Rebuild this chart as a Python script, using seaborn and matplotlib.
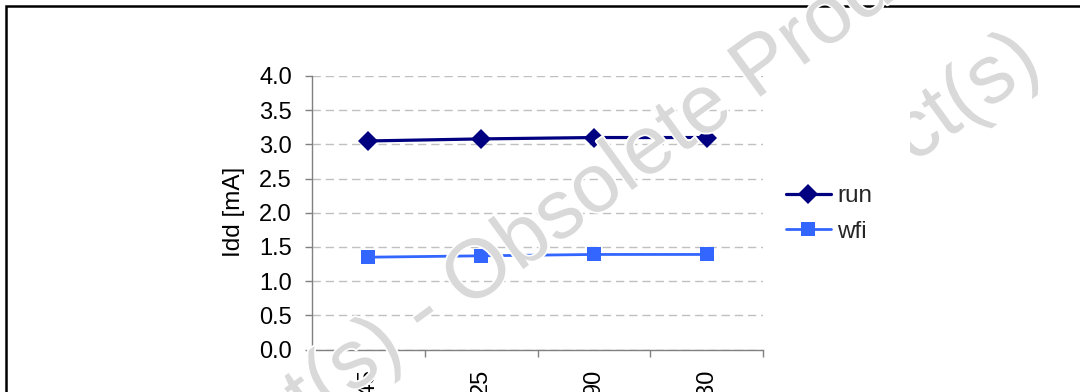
import matplotlib
matplotlib.use("Agg")
import matplotlib.pyplot as plt
import matplotlib.patheffects as pe
import seaborn as sns
from matplotlib.patches import Rectangle
from matplotlib.lines import Line2D
from matplotlib.transforms import Bbox, TransformedBbox

# Supply current vs. ambient temperature
temperatures = ["-45", "25", "90", "130"]
idd_run = [3.05, 3.08, 3.10, 3.10]
idd_wfi = [1.35, 1.37, 1.39, 1.39]
series_names = ["run", "wfi"]
y_ticks = [0.0, 0.5, 1.0, 1.5, 2.0, 2.5, 3.0, 3.5, 4.0]
y_label = "Idd [mA]"
watermark = "Obsolete Product(s) - Obsolete Product(s)"

RUN_COLOR = "#000080"
WFI_COLOR = "#3366ff"
AXIS_GRAY = "#808080"
WM_GRAY = "#d9d9d9"
TICK_FS = 17
LABEL_FS = 17.5

sns.set_theme(style="white")
plt.rcParams["font.family"] = ["Liberation Sans", "DejaVu Sans"]

W, H = 1080, 392
fig = plt.figure(figsize=(W / 100, H / 100), dpi=100)
fig.patch.set_facecolor("white")

# page frame around the figure
frame = Rectangle((5.5 / W, -0.5), 2.0, (1 - 6 / H) + 0.5, transform=fig.transFigure,
                  fill=False, edgecolor="black", linewidth=1.8, zorder=1)
fig.add_artist(frame)

ax = fig.add_axes([312 / W, 1 - 349.5 / H, (763 - 312) / W, (349.5 - 76) / H])
ax.set_facecolor("none")

positions = list(range(len(temperatures)))
sns.lineplot(x=positions, y=idd_run, ax=ax, color=RUN_COLOR, linewidth=2.3,
             marker="D", markersize=10, markeredgewidth=0, label=series_names[0],
             legend=False, zorder=3)
sns.lineplot(x=positions, y=idd_wfi, ax=ax, color=WFI_COLOR, linewidth=2.0,
             marker="s", markersize=9.5, markeredgewidth=0, label=series_names[1],
             legend=False, zorder=3)

ax.set_xlim(-0.5, len(temperatures) - 0.5)
ax.set_ylim(0, 4)
ax.set_yticks(y_ticks)
ax.set_yticklabels([f"{v:.1f}" for v in y_ticks])
ax.set_xlabel("")
ax.set_ylabel("")

# category boundaries carry the tick marks, centres carry the labels
ax.set_xticks([p - 0.5 for p in positions] + [positions[-1] + 0.5])
ax.set_xticklabels([])
ax.set_xticks(positions, minor=True)
ax.set_xticklabels(temperatures, minor=True, rotation=90, fontsize=TICK_FS)
ax.tick_params(axis="x", which="major", direction="out", length=5, width=1,
               color=AXIS_GRAY, bottom=True)
ax.tick_params(axis="x", which="minor", length=0, pad=14, labelcolor="black")
ax.tick_params(axis="y", direction="out", length=5, width=1, color=AXIS_GRAY,
               left=True, pad=9.5, labelsize=TICK_FS, labelcolor="black")

for side in ["top", "right"]:
    ax.spines[side].set_visible(False)
for side in ["left", "bottom"]:
    ax.spines[side].set_color(AXIS_GRAY)
    ax.spines[side].set_linewidth(1.0)

ax.yaxis.grid(True, color="#c0c0c0", linewidth=1.0, linestyle=(0, (6, 3.5)))
ax.xaxis.grid(False)
ax.set_axisbelow(True)

fig.text(234 / W, 1 - 212 / H, y_label, rotation=90, ha="center", va="center",
         fontsize=LABEL_FS, color="black")

handles = [
    Line2D([], [], color=RUN_COLOR, linewidth=2.3, marker="D", markersize=10,
           markeredgewidth=0),
    Line2D([], [], color=WFI_COLOR, linewidth=2.0, marker="s", markersize=9.5,
           markeredgewidth=0),
]
fig.legend(handles, series_names, loc="center left",
           bbox_to_anchor=(786 / W, 1 - 214 / H), bbox_transform=fig.transFigure,
           frameon=False, fontsize=LABEL_FS, handlelength=1.85, handletextpad=0.25,
           labelspacing=0.55, borderpad=0, borderaxespad=0)

# diagonal watermark across the page
halo = [pe.withStroke(linewidth=2.5, foreground="white")]
fig.text(424 / W, 1 - 314 / H, watermark, rotation=36, rotation_mode="anchor",
         ha="center", va="center", fontsize=60, color=WM_GRAY, zorder=10,
         path_effects=halo)
wm2 = fig.text(1044 / W, 1 - 69 / H, "Product(s)", rotation=36, rotation_mode="anchor",
               ha="right", va="baseline", fontsize=60, color=WM_GRAY, zorder=10,
               path_effects=halo)
wm2.set_clip_box(TransformedBbox(Bbox([[910 / W, 0], [1, 1]]), fig.transFigure))

fig.savefig("out.png", dpi=100, facecolor="white")
